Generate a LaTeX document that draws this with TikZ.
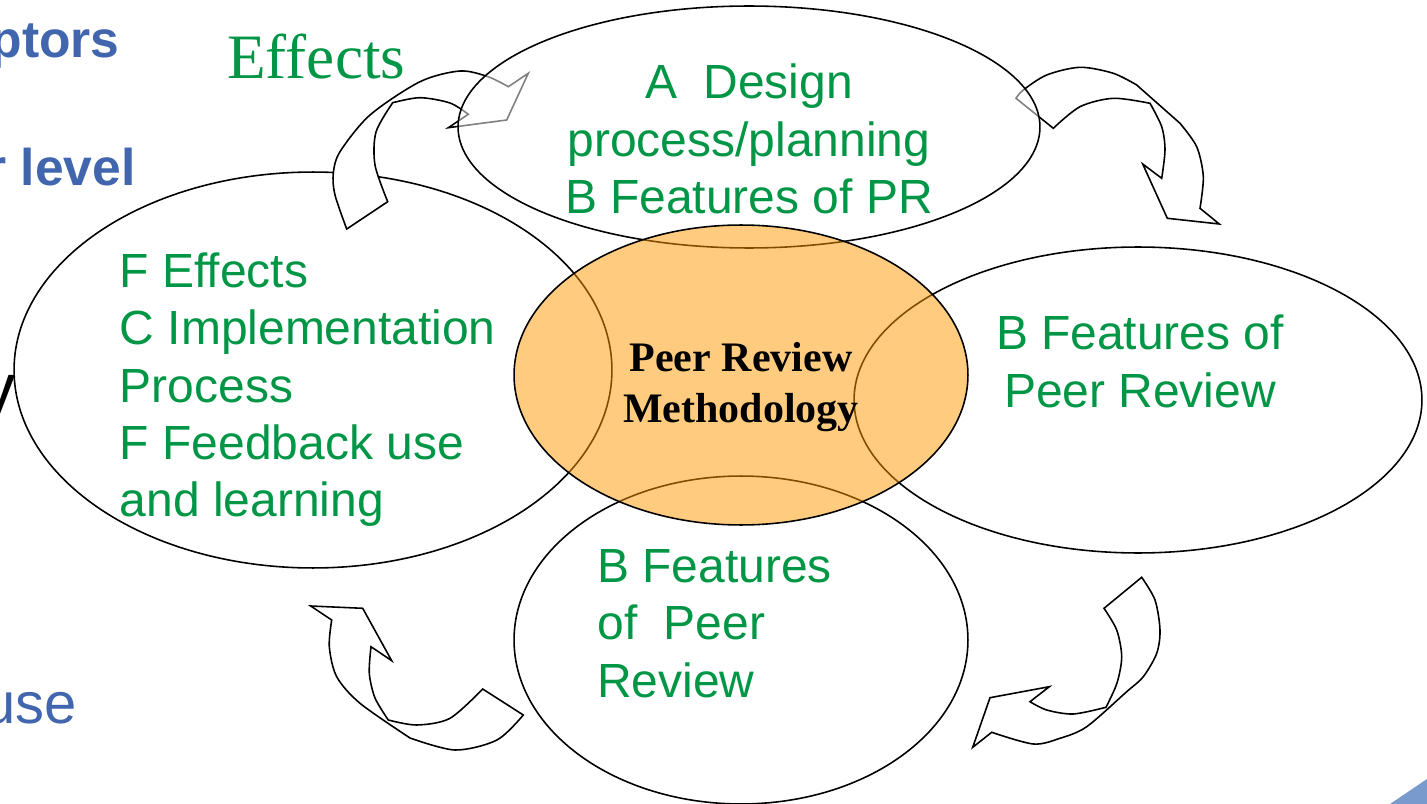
\documentclass[tikz,border=0pt]{standalone}
\usepackage{fontspec}
\setmainfont{Liberation Serif}
\setsansfont{Liberation Sans}
\usepackage{tikz}
\usetikzlibrary{shapes.geometric}
\definecolor{leafgreen}{RGB}{0,150,70}
\definecolor{slideblue}{RGB}{65,102,174}
\definecolor{huborange}{RGB}{255,153,0}
\definecolor{cornerblue}{RGB}{120,154,204}
\tikzset{
    bubble/.style={shape=ellipse, draw=black, line width=0.9pt, inner sep=0pt},
    curly/.style={draw=black, fill=white, line width=0.9pt, line join=miter},
    greentext/.style={text=leafgreen, font=\sffamily\fontsize{27.3}{32.6}\selectfont, inner sep=0pt},
    edgetext/.style={anchor=base east, inner sep=0pt}}

\begin{document}
\begin{tikzpicture}[x=0.02cm, y=-0.02cm]

    \clip (0,0) rectangle (1427,804);

    \node[bubble, minimum width=11.96cm, minimum height=7.92cm] (D) at (313,370) {};
    \node[bubble, minimum width=11.36cm, minimum height=6.12cm] (B) at (1138,400) {};
    \node[bubble, minimum width=9.08cm, minimum height=6.56cm] (C) at (741,640) {};

    \draw[curly] (346.7,229) -- (387.7,201.7)
        -- plot[smooth] coordinates {(387.7,201.7) (375,165) (376,132) (392.7,102.7)}
        -- plot[smooth] coordinates {(392.7,102.7) (420,97.7) (450,103) (468.3,114.3)}
        -- (448.3,127.7) -- (506.7,120) -- (528.3,73.3) -- (508.3,86.7)
        -- plot[smooth] coordinates {(508.3,86.7) (488,76.7) (460,71) (420,81.7) (370,115) (340,151.7) (333.3,173.3) (335,195) (346.7,229)}
        -- cycle;
    \draw[curly] (1016,98.3) -- (1053.3,128.3)
        -- plot[smooth] coordinates {(1053.3,128.3) (1080,106.7) (1113.3,98.3) (1150,103.3)}
        -- plot[smooth] coordinates {(1150,103.3) (1161.7,126.7) (1165,150) (1161.7,178.3)}
        -- (1142.7,164) -- (1167.3,218.3) -- (1219.3,224) -- (1200,208.3)
        -- plot[smooth] coordinates {(1200,208.3) (1203.3,176.7) (1196.7,146.7) (1180,123.3)}
        -- (1136.7,85)
        -- plot[smooth] coordinates {(1136.7,85) (1113.3,73.3) (1080,67.3) (1046.7,75) (1023.3,90) (1016,98.3)}
        -- cycle;
    \draw[curly] (331.7,620) -- (310.7,606) -- (362.7,608.3) -- (391.7,660.7) -- (371,646.7)
        -- plot[smooth] coordinates {(371,646.7) (369.3,673.3) (375,698) (388.3,720)}
        -- plot[smooth] coordinates {(388.3,720) (416.7,725) (450,718.3) (482.7,689)}
        -- (523.3,715)
        -- plot[smooth] coordinates {(523.3,715) (497,740) (455,750) (410,738)}
        -- plot[smooth] coordinates {(410,738) (360,703.3) (336.7,676.7) (329.3,646.7) (331.7,620)}
        -- cycle;
    \draw[curly] (1141.7,577.3) -- (1104,608.3)
        -- plot[smooth] coordinates {(1104,608.3) (1116.7,630) (1121.7,656.7) (1117,683) (1106,707.3)}
        -- plot[smooth] coordinates {(1106,707.3) (1073.3,714) (1046.7,710) (1030,701.7)}
        -- (1049.3,686.7) -- (990,697.7) -- (972.7,747.3) -- (991.7,732.3)
        -- plot[smooth] coordinates {(991.7,732.3) (1033.3,744) (1060,738.3) (1086.7,726.7) (1126.7,691.7) (1143.3,676.7) (1156.7,653.3) (1160,630) (1155,600) (1141.7,577.3)}
        -- cycle;

    \node[bubble, fill=white, fill opacity=0.5, minimum width=11.64cm, minimum height=4.84cm] (A) at (749,127) {};
    \node[bubble, fill=huborange, fill opacity=0.5, minimum width=9.08cm, minimum height=6cm] (H) at (741,375) {};

    \node[greentext, align=center, anchor=base] (a) at (749,213.3) {A\ \ Design\\process/planning\\B Features of PR};
    \node[greentext, align=center, anchor=base] (b) at (1140,407) {B Features of\\Peer Review};
    \node[greentext, align=left, anchor=base west] (c) at (597,697) {B Features\\of\ \ Peer\\Review};
    \node[greentext, align=left, anchor=base west] (d) at (119.5,516.7) {F Effects\\C Implementation\\Process\\F Feedback use\\and learning};
    \node[font=\bfseries\fontsize{23.9}{28.5}\selectfont, align=center, anchor=base, inner sep=0pt] (h) at (741,422) {Peer Review\\Methodology};
    \node[text=leafgreen, font=\fontsize{36}{40}\selectfont, anchor=base west, inner sep=0pt] (e) at (227,79) {Effects};

    \node[edgetext, text=slideblue, font=\sffamily\bfseries\fontsize{29.4}{35}\selectfont] (p) at (120,58) {ptors};
    \node[edgetext, text=slideblue, font=\sffamily\bfseries\fontsize{29.4}{35}\selectfont] (l) at (136,186) {r level};
    \node[edgetext, text=slideblue, font=\sffamily\fontsize{33}{40}\selectfont] (u) at (77,723) {use};
    \node[edgetext, font=\sffamily\fontsize{40}{48}\selectfont] (y) at (16,412) {y};

    \fill[cornerblue] (1390,804) -- (1427,779) -- (1427,804) -- cycle;

\end{tikzpicture}
\end{document}
